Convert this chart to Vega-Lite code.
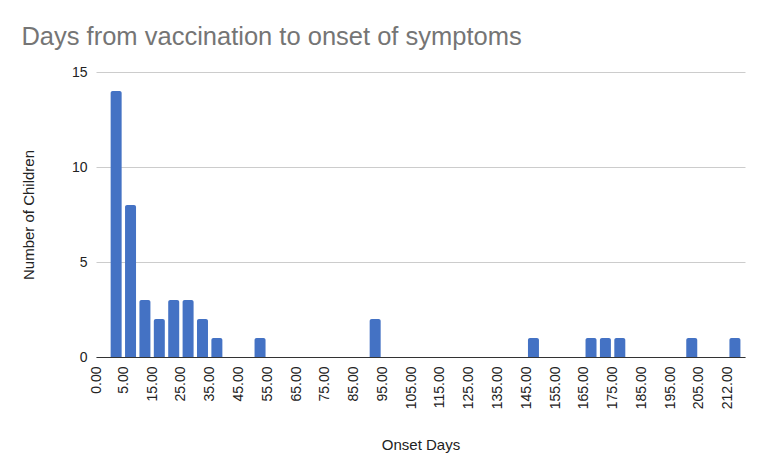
{
  "$schema": "https://vega.github.io/schema/vega-lite/v6.json",
  "autosize": {"type": "none"},
  "width": 649,
  "height": 285,
  "padding": {"left": 96, "top": 72, "right": 23, "bottom": 118},
  "background": "white",
  "title": {
    "text": "Days from vaccination to onset of symptoms",
    "anchor": "start",
    "frame": "bounds",
    "font": "Liberation Sans",
    "fontSize": 25.5,
    "fontWeight": "normal",
    "color": "#757575",
    "offset": 15
  },
  "data": {
    "values": [
      {"bin_start": 0, "bin_end": 5, "children": 14},
      {"bin_start": 5, "bin_end": 10, "children": 8},
      {"bin_start": 10, "bin_end": 15, "children": 3},
      {"bin_start": 15, "bin_end": 20, "children": 2},
      {"bin_start": 20, "bin_end": 25, "children": 3},
      {"bin_start": 25, "bin_end": 30, "children": 3},
      {"bin_start": 30, "bin_end": 35, "children": 2},
      {"bin_start": 35, "bin_end": 40, "children": 1},
      {"bin_start": 50, "bin_end": 55, "children": 1},
      {"bin_start": 90, "bin_end": 95, "children": 2},
      {"bin_start": 145, "bin_end": 150, "children": 1},
      {"bin_start": 165, "bin_end": 170, "children": 1},
      {"bin_start": 170, "bin_end": 175, "children": 1},
      {"bin_start": 175, "bin_end": 180, "children": 1},
      {"bin_start": 200, "bin_end": 205, "children": 1},
      {"bin_start": 215, "bin_end": 220, "children": 1}
    ]
  },
  "mark": {
    "type": "bar",
    "color": "#4472c4",
    "xOffset": 1.7,
    "x2Offset": -1.7,
    "cornerRadiusTopLeft": 2,
    "cornerRadiusTopRight": 2
  },
  "encoding": {
    "x": {
      "field": "bin_start",
      "type": "quantitative",
      "scale": {"domain": [-4.5, 221], "nice": false, "zero": false},
      "axis": {
        "title": "Onset Days",
        "titleFont": "Liberation Sans",
        "titleFontSize": 15,
        "titleFontWeight": "normal",
        "titleColor": "#222222",
        "titlePadding": 29,
        "values": [-4.5, 5, 15, 25, 35, 45, 55, 65, 75, 85, 95, 105, 115, 125, 135, 145, 155, 165, 175, 185, 195, 205, 215],
        "labelExpr": "datum.value < 0 ? '0.00' : datum.value > 212 ? '212.00' : format(datum.value, '.2f')",
        "labelAngle": 270,
        "labelFont": "Liberation Sans",
        "labelFontSize": 14,
        "labelColor": "#222222",
        "labelPadding": 9,
        "labelOverlap": false,
        "labelBound": false,
        "labelFlush": false,
        "ticks": false,
        "grid": false,
        "domainColor": "#333333",
        "domainWidth": 1
      }
    },
    "x2": {"field": "bin_end"},
    "y": {
      "field": "children",
      "type": "quantitative",
      "scale": {"domain": [0, 15], "nice": false},
      "axis": {
        "title": "Number of Children",
        "titleFont": "Liberation Sans",
        "titleFontSize": 15,
        "titleFontWeight": "normal",
        "titleColor": "#222222",
        "titlePadding": 35,
        "values": [0, 5, 10, 15],
        "labelFont": "Liberation Sans",
        "labelFontSize": 14,
        "labelColor": "#222222",
        "labelPadding": 9,
        "ticks": false,
        "domain": false,
        "gridColor": "#cccccc",
        "gridWidth": 1
      }
    },
    "y2": {"datum": 0}
  },
  "config": {
    "view": {"stroke": null}
  }
}
